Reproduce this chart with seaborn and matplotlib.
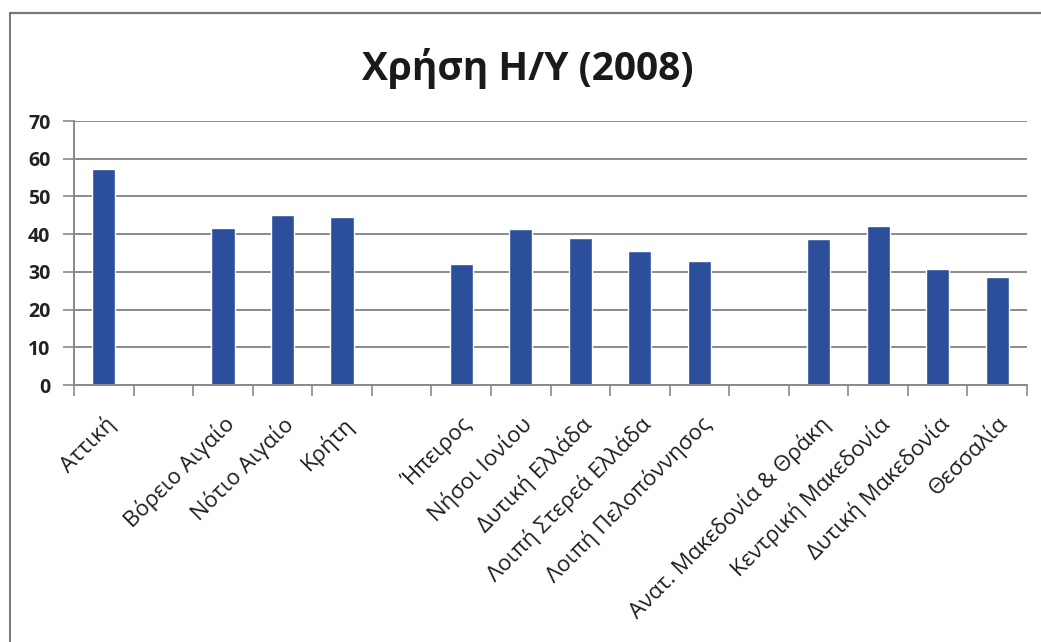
import matplotlib
matplotlib.use("Agg")
import matplotlib.pyplot as plt
from matplotlib.lines import Line2D
import numpy as np
import pandas as pd
import seaborn as sns

# Regions grouped by geographic area; empty slots separate the groups
regions = [
    "Αττική", "_g1",
    "Βόρειο Αιγαίο", "Νότιο Αιγαίο", "Κρήτη", "_g2",
    "Ήπειρος", "Νήσοι Ιονίου", "Δυτική Ελλάδα", "Λοιπή Στερεά Ελλάδα",
    "Λοιπή Πελοπόννησος", "_g3",
    "Ανατ. Μακεδονία & Θράκη", "Κεντρική Μακεδονία", "Δυτική Μακεδονία", "Θεσσαλία",
]
usage = [
    57.3, np.nan,
    41.5, 45.2, 44.6, np.nan,
    32.2, 41.3, 38.9, 35.6,
    33.0, np.nan,
    38.7, 42.1, 30.8, 28.7,
]
tick_labels = ["" if r.startswith("_") else r for r in regions]
y_ticks = [0, 10, 20, 30, 40, 50, 60, 70]

df = pd.DataFrame({"region": regions, "usage": usage})

sns.set_theme(style="white")
plt.rcParams["font.family"] = ["Open Sans", "DejaVu Sans"]

fig = plt.figure(figsize=(10.41, 6.42), dpi=100)
ax = fig.add_axes([0.0711, 0.4003, 0.9155, 0.4112])

sns.barplot(data=df, x="region", y="usage", order=regions, color="#2B4F9A",
            width=0.39, saturation=1, ax=ax)

grid_c = "#8a8a8a"
ax.set_ylim(0, 70)
ax.set_xlim(-0.5, len(regions) - 0.5)
ax.set_yticks(y_ticks)
ax.set_yticklabels([str(v) for v in y_ticks], fontsize=14, fontweight="bold",
                   color="#222222")
ax.yaxis.grid(True, color=grid_c, linewidth=1.4)
ax.set_axisbelow(True)
ax.tick_params(axis="y", length=8, width=1.2, color=grid_c, pad=9, left=True)

ax.set_xticks(range(len(regions)))
ax.set_xticklabels(tick_labels, rotation=45, ha="right", rotation_mode="anchor",
                   fontsize=16, color="#1e1e1e")
ax.tick_params(axis="x", which="major", length=0, pad=20)
ax.set_xticks(np.arange(-0.5, len(regions), 1.0), minor=True)
ax.tick_params(axis="x", which="minor", length=8, width=1.2, color=grid_c,
               bottom=True)

for side in ["top", "right"]:
    ax.spines[side].set_visible(False)
for side in ["left", "bottom"]:
    ax.spines[side].set_color(grid_c)
    ax.spines[side].set_linewidth(1.4)

ax.set_xlabel("")
ax.set_ylabel("")

fig.text(0.507, 0.893, "Χρήση Η/Υ (2008)", ha="center", va="center",
         fontsize=28, fontweight="bold", color="#1a1a1a")

# Frame edges of the chart area
fig.add_artist(Line2D([0.0095, 1.0], [0.980, 0.980], transform=fig.transFigure,
                      color="#777777", linewidth=1.6))
fig.add_artist(Line2D([0.0095, 0.0095], [0.0, 0.980], transform=fig.transFigure,
                      color="#777777", linewidth=1.4))

fig.savefig("out.png", dpi=100)
